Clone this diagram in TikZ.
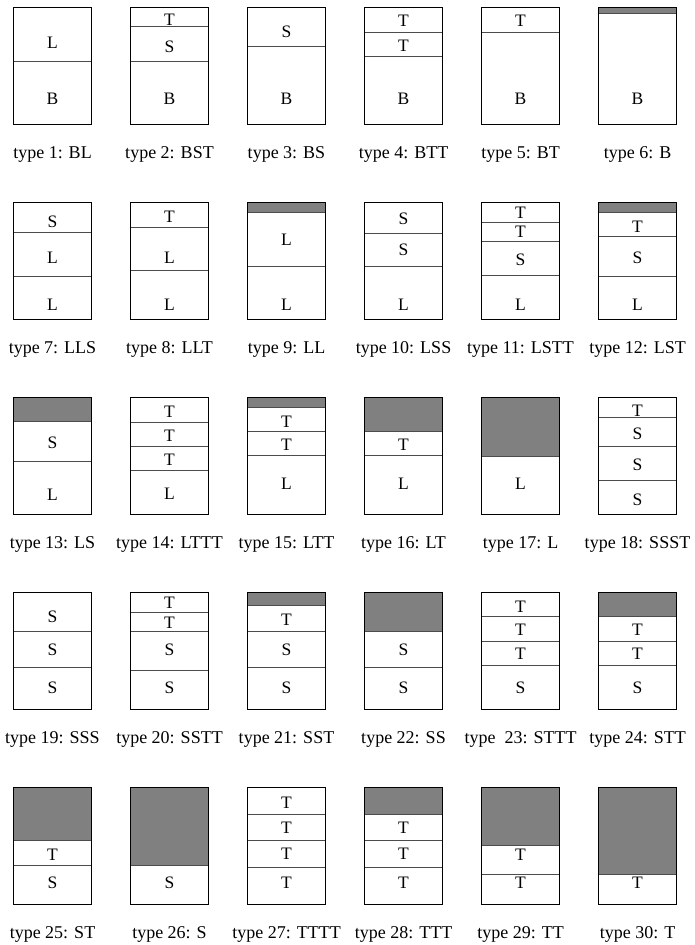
\documentclass[tikz,border=0pt]{standalone}
\usepackage{fontspec}
\setmainfont{Liberation Serif}
\definecolor{graybox}{HTML}{808080}
\tikzset{
  outline/.style={draw=black,line width=1.3pt},
  divline/.style={draw=black!70,line width=0.8pt},
  shadefill/.style={fill=graybox},
  lay/.style={font=\fontsize{17.5}{20}\selectfont, inner sep=0pt, anchor=center},
  captxt/.style={font=\fontsize{18}{21}\selectfont, inner sep=0pt, anchor=base},
}
\newcounter{lc}
\newcommand\gry[1]{\fill[shadefill] (0,0) rectangle (78,#1);}
\newcommand\dvd[1]{\draw[divline] (0,#1) -- (78,#1);}
\newcommand\lyr[2]{\stepcounter{lc}\node[lay] (t\arabic{lc}) at (39,#1) {#2};}
\newcommand\stk[5]{%
  \begin{scope}[shift={(#2,#3)}]
    #5
    \draw[outline] (0,0) rectangle (78,116.7);
    \node[captxt] (cap#1) at (39,150.7) {#4};
  \end{scope}}
\begin{document}
\begin{tikzpicture}[x=1pt,y=-1pt]
\useasboundingbox (0,0) rectangle (695,945);
% row 1
\stk{1}{13.5}{7.6}{type 1: BL}{\dvd{53.8}\lyr{35.5}{L}\lyr{91.5}{B}}
\stk{2}{130.5}{7.6}{type 2: BST}{\dvd{19.2}\dvd{53.8}\lyr{12.5}{T}\lyr{39.2}{S}\lyr{91.5}{B}}
\stk{3}{247.5}{7.6}{type 3: BS}{\dvd{39.2}\lyr{24.2}{S}\lyr{91.5}{B}}
\stk{4}{364.5}{7.6}{type 4: BTT}{\dvd{24.8}\dvd{49.2}\lyr{13.5}{T}\lyr{38.5}{T}\lyr{91.5}{B}}
\stk{5}{481.5}{7.6}{type 5: BT}{\dvd{24.8}\lyr{13.5}{T}\lyr{91.5}{B}}
\stk{6}{598.5}{7.6}{type 6: B}{\gry{5.8}\dvd{5.8}\lyr{91.5}{B}}
% row 2
\stk{7}{13.5}{202.6}{type 7: LLS}{\dvd{29.3}\dvd{73.3}\lyr{19.6}{S}\lyr{55.6}{L}\lyr{102.3}{L}}
\stk{8}{130.5}{202.6}{type 8: LLT}{\dvd{24.6}\dvd{68}\lyr{14}{T}\lyr{55.6}{L}\lyr{102.3}{L}}
\stk{9}{247.5}{202.6}{type 9: LL}{\gry{9.6}\dvd{9.6}\dvd{63.5}\lyr{37.5}{L}\lyr{102.3}{L}}
\stk{10}{364.5}{202.6}{type 10: LSS}{\dvd{31}\dvd{64}\lyr{16}{S}\lyr{47}{S}\lyr{102.3}{L}}
\stk{11}{481.5}{202.6}{type 11: LSTT}{\dvd{19.6}\dvd{39}\dvd{73}\lyr{10}{T}\lyr{29}{T}\lyr{57.3}{S}\lyr{102.3}{L}}
\stk{12}{598.5}{202.6}{type 12: LST}{\gry{9.6}\dvd{9.6}\dvd{34}\dvd{73.3}\lyr{24}{T}\lyr{55.6}{S}\lyr{102.3}{L}}
% row 3
\stk{13}{13.5}{397.6}{type 13: LS}{\gry{24}\dvd{24}\dvd{63.3}\lyr{45.6}{S}\lyr{97.3}{L}}
\stk{14}{130.5}{397.6}{type 14: LTTT}{\dvd{24.6}\dvd{48.6}\dvd{73}\lyr{14}{T}\lyr{38}{T}\lyr{62.3}{T}\lyr{96.6}{L}}
\stk{15}{247.5}{397.6}{type 15: LTT}{\gry{9.6}\dvd{9.6}\dvd{34}\dvd{58}\lyr{24}{T}\lyr{47.3}{T}\lyr{86.6}{L}}
\stk{16}{364.5}{397.6}{type 16: LT}{\gry{34}\dvd{34}\dvd{58}\lyr{47.3}{T}\lyr{86.6}{L}}
\stk{17}{481.5}{397.6}{type 17: L}{\gry{58.3}\dvd{58.3}\lyr{86.6}{L}}
\stk{18}{598.5}{397.6}{type 18: SSST}{\dvd{19.6}\dvd{48.6}\dvd{83}\lyr{13}{T}\lyr{36.6}{S}\lyr{67.3}{S}\lyr{102.3}{S}}
% row 4
\stk{19}{13.5}{592.6}{type 19: SSS}{\dvd{39}\dvd{74.6}\lyr{24}{S}\lyr{57.3}{S}\lyr{95.6}{S}}
\stk{20}{130.5}{592.6}{type 20: SSTT}{\dvd{19.6}\dvd{39}\dvd{77.3}\lyr{10.6}{T}\lyr{30}{T}\lyr{57.3}{S}\lyr{95.6}{S}}
\stk{21}{247.5}{592.6}{type 21: SST}{\gry{13}\dvd{13}\dvd{39}\dvd{74.6}\lyr{27}{T}\lyr{57.3}{S}\lyr{95.6}{S}}
\stk{22}{364.5}{592.6}{type 22: SS}{\gry{39}\dvd{39}\dvd{74.6}\lyr{57.3}{S}\lyr{95.6}{S}}
\stk{23}{481.5}{592.6}{type\ \ 23: STTT}{\dvd{24}\dvd{48.6}\dvd{73}\lyr{14}{T}\lyr{37.3}{T}\lyr{61.3}{T}\lyr{95.6}{S}}
\stk{24}{598.5}{592.6}{type 24: STT}{\gry{24}\dvd{24}\dvd{48.6}\dvd{73}\lyr{37.3}{T}\lyr{61.3}{T}\lyr{95.6}{S}}
% row 5
\stk{25}{13.5}{787.6}{type 25: ST}{\gry{53}\dvd{53}\dvd{77.3}\lyr{67.3}{T}\lyr{95.6}{S}}
\stk{26}{130.5}{787.6}{type 26: S}{\gry{77.3}\dvd{77.3}\lyr{95.6}{S}}
\stk{27}{247.5}{787.6}{type 27: TTTT}{\dvd{27}\dvd{53}\dvd{80}\lyr{15}{T}\lyr{40}{T}\lyr{66}{T}\lyr{95.6}{T}}
\stk{28}{364.5}{787.6}{type 28: TTT}{\gry{27}\dvd{27}\dvd{53}\dvd{80}\lyr{40}{T}\lyr{66}{T}\lyr{95.6}{T}}
\stk{29}{481.5}{787.6}{type 29: TT}{\gry{58}\dvd{58}\dvd{86.6}\lyr{67.3}{T}\lyr{95.6}{T}}
\stk{30}{598.5}{787.6}{type 30: T}{\gry{86.6}\dvd{86.6}\lyr{95.6}{T}}
\end{tikzpicture}
\end{document}
